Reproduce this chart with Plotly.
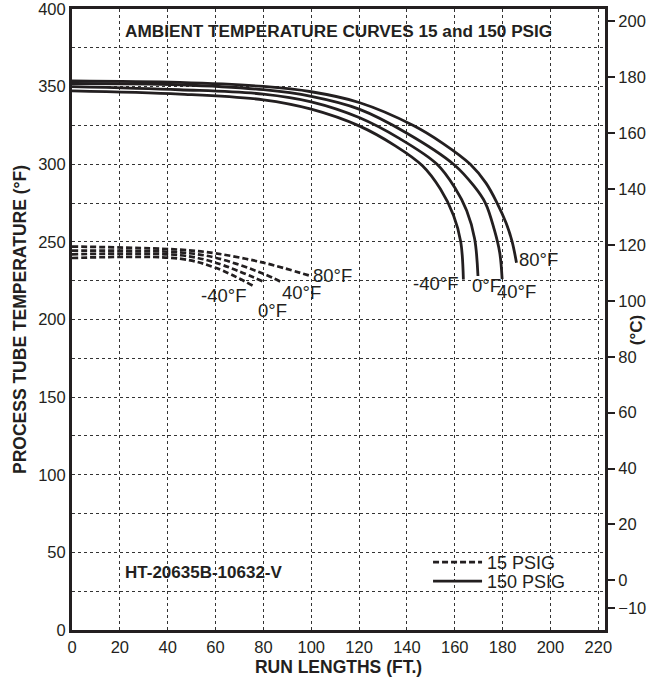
import plotly.graph_objects as go

# ---- data ----
ambients = ["80°F", "40°F", "0°F", "-40°F"]

# 150 PSIG (solid)
hi_x = {
    "80°F": [0, 45, 80, 100, 120, 142.7, 155, 166.5, 173, 177.7, 181.5, 184, 185.8],
    "40°F": [0, 45, 80, 100, 120, 140, 159.5, 168, 172.8, 176.5, 178.8, 179.8],
    "0°F": [0, 45, 80, 100, 120, 137, 152.6, 160, 165, 168.3, 169.7],
    "-40°F": [0, 45, 80, 100, 120, 135, 146.5, 154, 159.5, 162.5, 163.6],
}
hi_y = {
    "80°F": [353.7, 352.7, 350.1, 346.7, 339.8, 325, 313.5, 300, 288, 275, 262, 250, 236.5],
    "40°F": [352, 351.2, 348, 343.7, 335.5, 320, 300, 286, 275, 258, 243, 226],
    "0°F": [350, 348, 345.2, 340.2, 330.1, 316.5, 300, 285, 270, 252, 228],
    "-40°F": [347.3, 345.2, 341.5, 335.5, 324.7, 312, 299, 284, 267, 250, 225.8],
}

# 15 PSIG (dashed)
lo_x = {
    "80°F": [0, 45, 60, 80, 99],
    "40°F": [0, 45, 60, 80, 87],
    "0°F": [0, 45, 60, 80.5],
    "-40°F": [0, 45, 60, 76],
}
lo_y = {
    "80°F": [247.0, 245, 242.6, 236.6, 228.4],
    "40°F": [244.4, 243.2, 239.8, 229.5, 224.5],
    "0°F": [242.0, 241.4, 236.6, 224],
    "-40°F": [239.6, 239.2, 233.3, 221.5],
}

# label positions (ft, °F)
lo_lbl = {"80°F": (109, 228.4), "40°F": (95.8, 217.4), "0°F": (83.7, 205.8), "-40°F": (63.2, 215.5)}
hi_lbl = {"80°F": (195, 238.7), "40°F": (186, 218), "0°F": (173.3, 221.9), "-40°F": (151.9, 223.2)}

x_ticks = list(range(0, 221, 20))
yF_ticks = list(range(0, 401, 50))
yC_ticks = [-10, 0, 20, 40, 60, 80, 100, 120, 140, 160, 180, 200]
F_RANGE = [0, 400]
X_RANGE = [0, 222.8]

INK = "#231f20"
FONT = "Liberation Sans, Arial, Helvetica, sans-serif"

fig = go.Figure()

first = True
for a in ambients:
    fig.add_trace(go.Scatter(
        x=lo_x[a], y=lo_y[a], mode="lines",
        line=dict(color=INK, width=2.7, dash="6px,3px", shape="spline", smoothing=1),
        name="15 PSIG", showlegend=first, legend="legend", hoverinfo="skip"))
    first = False
first = True
for a in ambients:
    fig.add_trace(go.Scatter(
        x=hi_x[a], y=hi_y[a], mode="lines",
        line=dict(color=INK, width=2.8, shape="spline", smoothing=1),
        name="150 PSIG", showlegend=first, legend="legend2", hoverinfo="skip"))
    first = False

# invisible trace on the °C axis so that it is drawn
fig.add_trace(go.Scatter(x=[0], y=[0], yaxis="y2", mode="markers", marker=dict(opacity=0),
                         showlegend=False, hoverinfo="skip"))

for a in ambients:
    x, y = lo_lbl[a]
    fig.add_annotation(x=x, y=y, text=a, showarrow=False, font=dict(size=18.5, color=INK, family=FONT))
    x, y = hi_lbl[a]
    fig.add_annotation(x=x, y=y, text=a, showarrow=False, font=dict(size=18.5, color=INK, family=FONT))

fig.add_annotation(x=21.3, y=386, xanchor="left", text="<b>AMBIENT TEMPERATURE CURVES 15 and 150 PSIG</b>",
                   showarrow=False, font=dict(size=17.2, color=INK, family=FONT))
fig.add_annotation(x=21.3, y=36.8, xanchor="left", text="<b>HT-20635B-10632-V</b>",
                   showarrow=False, font=dict(size=17, color=INK, family=FONT))
fig.add_annotation(xref="paper", yref="paper", x=1.08, y=0.483, text="<b>(°C)</b>", textangle=-90,
                   showarrow=False, font=dict(size=17, color=INK, family=FONT))

leg = dict(xanchor="left", yanchor="top", bgcolor="rgba(0,0,0,0)",
           font=dict(size=18, family=FONT, color=INK), itemwidth=49)

fig.update_layout(
    width=659, height=681,
    margin=dict(l=72, r=54, t=9, b=51),
    paper_bgcolor="white", plot_bgcolor="white",
    font=dict(family=FONT, color=INK, size=16.5),
    showlegend=True,
    legend=dict(x=0.668, y=0.1385, **leg),
    legend2=dict(x=0.668, y=0.1079, **leg),
    xaxis=dict(range=X_RANGE, tickvals=x_ticks, ticks="", zeroline=False, automargin=False,
               showline=True, linecolor=INK, linewidth=3, mirror=True,
               tickfont=dict(size=16.5), ticklabeloverflow="allow",
               title=dict(text="<b>RUN LENGTHS (FT.)</b>", font=dict(size=17.5), standoff=6),
               showgrid=True, gridcolor="#333", gridwidth=1, griddash="3px,3px"),
    yaxis=dict(range=F_RANGE, tickvals=yF_ticks, ticks="", zeroline=False, automargin=False,
               showline=True, linecolor=INK, linewidth=3,
               tickfont=dict(size=16.5), ticklabeloverflow="allow",
               title=dict(text="<b>PROCESS TUBE TEMPERATURE (°F)</b>", font=dict(size=17.5), standoff=8),
               showgrid=True, gridcolor="#333", gridwidth=1, griddash="3px,3px",
               minor=dict(dtick=25, showgrid=True, gridcolor="#333", gridwidth=1, griddash="3px,3px")),
    yaxis2=dict(overlaying="y", side="right", automargin=False,
                range=[(F_RANGE[0] - 32) * 5 / 9, (F_RANGE[1] - 32) * 5 / 9],
                tickvals=yC_ticks, ticks="outside", ticklen=7, tickwidth=2, tickcolor=INK,
                showline=True, linecolor=INK, linewidth=3, showgrid=False, zeroline=False,
                tickfont=dict(size=16.5), ticklabeloverflow="allow"),
)

fig.write_html("out.html", config={"displayModeBar": False},
               post_script="document.body.style.margin='0';")
